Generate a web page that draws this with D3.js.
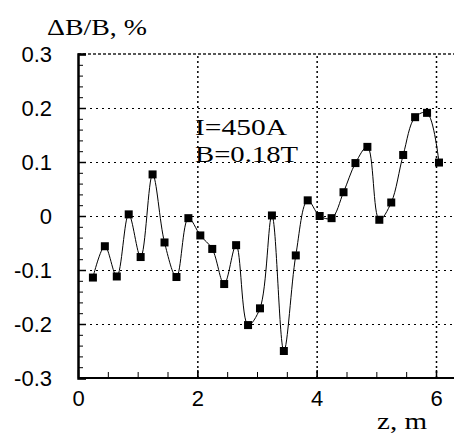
<!DOCTYPE html>
<html>
<head>
<meta charset="utf-8">
<script src="https://cdn.jsdelivr.net/npm/d3@7"></script>
<style>
  body { margin: 0; background: #fff; }
  svg { display: block; }
</style>
</head>
<body>
<div id="chart"></div>
<script>
/* field uniformity along the magnet, dB/B vs z */

// positions along the axis, m
const zVals = [0.25, 0.45, 0.65, 0.85, 1.05, 1.25, 1.45, 1.65, 1.85, 2.05,
               2.25, 2.45, 2.65, 2.85, 3.05, 3.25, 3.45, 3.65, 3.85, 4.05,
               4.25, 4.45, 4.65, 4.85, 5.05, 5.25, 5.45, 5.65, 5.85, 6.05];
// dB/B, %
const dbVals = [-0.114, -0.056, -0.112, 0.003, -0.076, 0.077, -0.049, -0.113, -0.004, -0.036,
                -0.061, -0.126, -0.054, -0.202, -0.171, 0.001, -0.250, -0.073, 0.029, 0.000,
                -0.004, 0.044, 0.098, 0.128, -0.007, 0.025, 0.113, 0.183, 0.191, 0.099];

const xTicks = [0, 2, 4, 6];
const yTicks = [-0.3, -0.2, -0.1, 0, 0.1, 0.2, 0.3];
const yTitle = "\u0394B/B, %";
const xTitle = "z, m";
const notes = ["I=450A", "B=0.18T"];

const width = 454,
      height = 433,
      margin = ({ top: 54, bottom: 55, left: 78 });

const data = zVals.map((z, i) => ({ z: z, v: dbVals[i] }));

let svg = d3.select("#chart")
    .append("svg")
    .attr("width", width)
    .attr("height", height);

// x: 0..6 m spans 78..436 px, plot runs off the right edge
let x = d3.scaleLinear()
    .domain([0, 6])
    .range([margin.left, 436]);

let y = d3.scaleLinear()
    .domain([-0.3, 0.3])
    .range([height - margin.bottom, margin.top]);

const plotRight = width + 10;
const bottom = y(-0.3);
const sans = "'Liberation Sans', Arial, sans-serif";
const serif = "'Liberation Serif', 'Times New Roman', serif";

// horizontal grid
svg.append("g")
    .attr("transform", `translate(${margin.left},0)`)
    .call(d3.axisRight(y).tickValues([-0.2, -0.1, 0, 0.1, 0.2]).tickSize(plotRight - margin.left).tickFormat(""))
    .call(g => g.select(".domain").remove())
    .call(g => g.selectAll("line").attr("stroke", "#000").attr("stroke-width", 1).attr("stroke-dasharray", "2,4"));

// top line (0.3) denser
svg.append("line")
    .attr("x1", margin.left).attr("x2", plotRight)
    .attr("y1", y(0.3)).attr("y2", y(0.3))
    .attr("stroke", "#222").attr("stroke-width", 1.5).attr("stroke-dasharray", "3,2");

// vertical grid
svg.append("g")
    .attr("transform", `translate(0,${bottom})`)
    .call(d3.axisTop(x).tickValues([2, 4, 6]).tickSize(bottom - margin.top).tickFormat(""))
    .call(g => g.select(".domain").remove())
    .call(g => g.selectAll("line").attr("stroke", "#000").attr("stroke-width", 1.5).attr("stroke-dasharray", "2,3"));

// minor ticks
svg.append("g")
    .attr("transform", `translate(${margin.left},0)`)
    .call(d3.axisRight(y).tickValues(d3.range(-15, 16).map(d => d * 0.02)).tickSize(5).tickFormat(""))
    .call(g => g.select(".domain").remove())
    .call(g => g.selectAll("line").attr("stroke", "#000").attr("stroke-width", 1));

svg.append("g")
    .attr("transform", `translate(0,${bottom})`)
    .call(d3.axisTop(x).tickValues(d3.range(0, 14).map(d => d * 0.5)).tickSize(6).tickFormat(""))
    .call(g => g.select(".domain").remove())
    .call(g => g.selectAll("line").attr("stroke", "#000").attr("stroke-width", 1));

// main axes with labels
svg.append("g")
    .attr("transform", `translate(${margin.left},0)`)
    .call(d3.axisLeft(y).tickValues(yTicks).tickSize(-8).tickPadding(26)
        .tickFormat(d => Math.abs(d) < 1e-9 ? "0" : d.toFixed(1)))
    .call(g => g.select(".domain").attr("stroke-width", 2.5))
    .call(g => g.selectAll("line").attr("stroke-width", 1.5))
    .call(g => g.selectAll("text")
        .attr("font-family", sans)
        .attr("font-size", 22)
        .attr("fill", "#000"));

svg.append("g")
    .attr("transform", `translate(0,${bottom})`)
    .call(d3.axisBottom(x).tickValues(xTicks).tickSize(-8).tickPadding(12)
        .tickFormat(d3.format("d")))
    .call(g => g.select(".domain").attr("stroke-width", 2).attr("d", `M${margin.left},0H${plotRight}`))
    .call(g => g.selectAll("line").attr("stroke-width", 1.5))
    .call(g => g.selectAll("text")
        .attr("font-family", sans)
        .attr("font-size", 22)
        .attr("fill", "#000"));

// smooth line through the points
let line = d3.line()
    .x(d => x(d.z))
    .y(d => y(d.v))
    .curve(d3.curveCatmullRom.alpha(0.5));

svg.append("path")
    .datum(data)
    .attr("fill", "none")
    .attr("stroke", "#000")
    .attr("stroke-width", 1)
    .attr("d", line);

// square markers
svg.selectAll(".pt")
    .data(data)
    .join("rect")
    .attr("class", "pt")
    .attr("x", d => x(d.z) - 4)
    .attr("y", d => y(d.v) - 4)
    .attr("width", 8)
    .attr("height", 8)
    .attr("fill", "#000");

// titles
svg.append("text")
    .attr("x", 47)
    .attr("y", 35)
    .attr("font-family", serif)
    .attr("font-size", 24)
    .attr("textLength", 100)
    .attr("lengthAdjust", "spacingAndGlyphs")
    .text(yTitle);

svg.append("text")
    .attr("x", 377)
    .attr("y", 429)
    .attr("font-family", serif)
    .attr("font-size", 24)
    .attr("textLength", 50)
    .attr("lengthAdjust", "spacingAndGlyphs")
    .text(xTitle);

svg.selectAll(".note")
    .data(notes)
    .join("text")
    .attr("class", "note")
    .attr("x", 195)
    .attr("y", (d, i) => 135 + i * 27)
    .attr("font-family", serif)
    .attr("font-size", 24)
    .attr("textLength", (d, i) => i === 0 ? 92 : 103)
    .attr("lengthAdjust", "spacingAndGlyphs")
    .text(d => d);
</script>
</body>
</html>
